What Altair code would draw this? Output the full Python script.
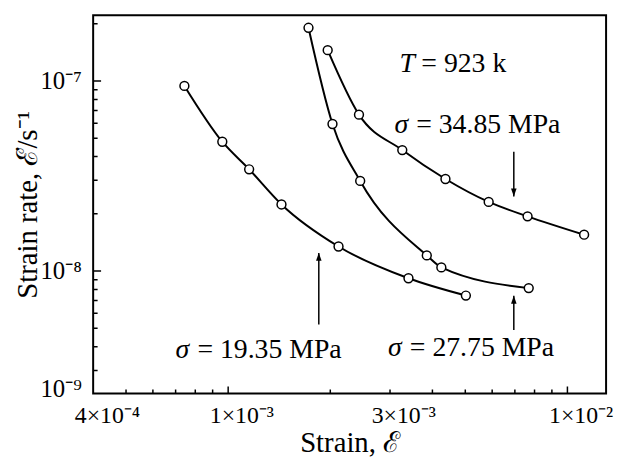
import altair as alt
import pandas as pd

# ---------------- data ----------------
series_names = ["19.35", "27.75", "34.85"]

s1_strain = [7.43e-4, 9.61e-4, 1.153e-3, 1.436e-3, 2.115e-3, 3.40e-3, 5.02e-3]
s1_rate = [9.42e-8, 4.79e-8, 3.43e-8, 2.24e-8, 1.346e-8, 9.16e-9, 7.43e-9]

s2_strain = [1.725e-3, 2.03e-3, 2.45e-3, 3.85e-3, 4.25e-3, 7.69e-3]
s2_rate = [1.905e-7, 5.94e-8, 2.98e-8, 1.208e-8, 1.045e-8, 8.13e-9]

s3_strain = [1.965e-3, 2.43e-3, 3.26e-3, 4.37e-3, 5.86e-3, 7.63e-3, 1.12e-2]
s3_rate = [1.453e-7, 6.65e-8, 4.33e-8, 3.05e-8, 2.31e-8, 1.94e-8, 1.553e-8]

# axis ticks / labels
x_label_values = [4e-4, 1e-3, 3e-3, 1e-2]
x_label_texts = ["4×10⁻⁴", "1×10⁻³", "3×10⁻³", "1×10⁻²"]
x_major_ticks = [1e-3, 1e-2]
x_minor_ticks = [5e-4, 6e-4, 7e-4, 8e-4, 9e-4, 2e-3, 3e-3, 4e-3, 5e-3,
                 6e-3, 7e-3, 8e-3, 9e-3]

y_label_values = [2.4e-9, 1e-8, 1e-7]
y_label_texts = ["10⁻⁹", "10⁻⁸", "10⁻⁷"]
y_major_ticks = [1e-8, 1e-7]
y_minor_ticks = [2e-7, 9e-8, 8e-8, 7e-8, 6e-8, 5e-8, 4e-8, 3e-8, 2e-8,
                 9e-9, 8e-9, 7e-9, 6e-9, 5e-9, 4e-9, 3e-9]

x_domain = [4e-4, 1.3e-2]
y_domain = [2.27e-9, 2.22e-7]

# annotations
ann_symbol = ["T", "σ", "σ", "σ"]
ann_rest = ["= 923 k", "= 34.85 MPa", "= 19.35 MPa", "= 27.75 MPa"]
ann_x = [3.2e-3, 3.09e-3, 7.0e-4, 2.96e-3]
ann_y = [1.109e-7, 5.31e-8, 3.5e-9, 3.57e-9]

arrow_x = [1.85e-3, 6.95e-3, 6.95e-3]
arrow_tail = [5.23e-9, 4.89e-9, 4.24e-8]
arrow_tip = [1.246e-8, 7.41e-9, 2.47e-8]
arrow_dir = ["up", "up", "down"]

# ---------------- build tables ----------------
rows = []
for name, xs_, ys_ in zip(series_names, [s1_strain, s2_strain, s3_strain],
                          [s1_rate, s2_rate, s3_rate]):
    for xv, yv in zip(xs_, ys_):
        rows.append({"series": name, "strain": xv, "rate": yv})
df = pd.DataFrame(rows)

ann_df = pd.DataFrame({"sym": ann_symbol, "rest": ann_rest, "x": ann_x, "y": ann_y})
arr_df = pd.DataFrame({"x": arrow_x, "tail": arrow_tail, "tip": arrow_tip, "dir": arrow_dir})

W, H = 518, 382
FONT = "Liberation Serif"


def label_expr(values, labels):
    expr = "''"
    for v, l in reversed(list(zip(values, labels))):
        expr = f"abs(datum.value - {v}) < {v * 1e-3} ? '{l}' : ({expr})"
    return expr


xs = alt.Scale(type="log", domain=x_domain, nice=False)
ys = alt.Scale(type="log", domain=y_domain, nice=False)

# label axes (bottom / left)
x_lab_axis = alt.Axis(orient="bottom", values=x_label_values,
                      labelExpr=label_expr(x_label_values, x_label_texts),
                      ticks=False, domain=False, grid=False,
                      labelFontSize=24, labelPadding=10, labelAlign="left",
                      labelOffset=-19, labelFlush=False, labelOverlap=False,
                      labelBound=False,
                      title="Strain, ℰ", titleFontSize=29, titlePadding=2)
y_lab_axis = alt.Axis(orient="left", values=y_label_values,
                      labelExpr=label_expr(y_label_values, y_label_texts),
                      ticks=False, domain=False, grid=False,
                      labelFontSize=25, labelPadding=12, labelFlush=False,
                      labelOverlap=False, labelBound=False,
                      title="Strain rate, ℰ̇/s⁻¹", titleFontSize=29, titlePadding=-3)

base = alt.Chart(df)

lines = base.mark_line(interpolate="monotone", color="black", strokeWidth=2).encode(
    x=alt.X("strain:Q", scale=xs, axis=x_lab_axis),
    y=alt.Y("rate:Q", scale=ys, axis=y_lab_axis),
    detail="series:N",
)

points = base.mark_circle(fill="white", stroke="black", strokeWidth=1.5,
                          size=80, opacity=1).encode(
    x=alt.X("strain:Q", scale=xs, axis=None),
    y=alt.Y("rate:Q", scale=ys, axis=None),
)

# inward ticks: centred on the frame edge and clipped to the plot area
xmaj_df = pd.DataFrame({"v": x_major_ticks})
xmin_df = pd.DataFrame({"v": x_minor_ticks})
ymaj_df = pd.DataFrame({"v": y_major_ticks})
ymin_df = pd.DataFrame({"v": y_minor_ticks})

x_major = alt.Chart(xmaj_df).mark_tick(clip=True, color="black", thickness=1.5,
                                       size=14, opacity=1).encode(
    x=alt.X("v:Q", scale=xs, axis=None), y=alt.value(H))
x_minor = alt.Chart(xmin_df).mark_tick(clip=True, color="black", thickness=1.5,
                                       size=8, opacity=1).encode(
    x=alt.X("v:Q", scale=xs, axis=None), y=alt.value(H))
y_major = alt.Chart(ymaj_df).mark_tick(clip=True, color="black", thickness=1.5,
                                       size=16, opacity=1).encode(
    y=alt.Y("v:Q", scale=ys, axis=None), x=alt.value(0))
y_minor = alt.Chart(ymin_df).mark_tick(clip=True, color="black", thickness=1.5,
                                       size=9, opacity=1).encode(
    y=alt.Y("v:Q", scale=ys, axis=None), x=alt.value(0))

arr_base = alt.Chart(arr_df)
arrow_lines = arr_base.mark_rule(color="black", strokeWidth=1.5).encode(
    x=alt.X("x:Q", scale=xs, axis=None),
    y=alt.Y("tail:Q", scale=ys, axis=None),
    y2="tip:Q",
)
head_up = arr_base.transform_filter(alt.datum.dir == "up").mark_point(
    shape="M0,0L-0.35,1L0.35,1Z", filled=True, color="black", size=256, opacity=1
).encode(
    x=alt.X("x:Q", scale=xs, axis=None),
    y=alt.Y("tip:Q", scale=ys, axis=None),
)
head_down = arr_base.transform_filter(alt.datum.dir == "down").mark_point(
    shape="M0,0L-0.35,-1L0.35,-1Z", filled=True, color="black", size=256, opacity=1
).encode(
    x=alt.X("x:Q", scale=xs, axis=None),
    y=alt.Y("tip:Q", scale=ys, axis=None),
)

ann_base = alt.Chart(ann_df)
ann_sym = ann_base.mark_text(font=FONT, fontSize=28, fontStyle="italic",
                             align="left", baseline="alphabetic", color="black").encode(
    x=alt.X("x:Q", scale=xs, axis=None),
    y=alt.Y("y:Q", scale=ys, axis=None),
    text="sym:N",
)
ann_txt = ann_base.mark_text(font=FONT, fontSize=28, align="left", dx=22,
                             baseline="alphabetic", color="black").encode(
    x=alt.X("x:Q", scale=xs, axis=None),
    y=alt.Y("y:Q", scale=ys, axis=None),
    text="rest:N",
)

chart = alt.layer(
    lines, points, x_major, x_minor, y_major, y_minor,
    arrow_lines, head_up, head_down, ann_sym, ann_txt
).resolve_axis(
    x="independent", y="independent"
).properties(
    width=W, height=H,
    autosize=alt.AutoSizeParams(type="none"),
    padding={"left": 86, "top": 5, "right": 8, "bottom": 64},
    background="white",
).configure_view(
    stroke="black", strokeWidth=2
).configure_axis(
    labelFont=FONT, titleFont=FONT, labelColor="black", titleColor="black",
    titleFontWeight="normal",
)

chart.save("out.html", embed_options={"renderer": "svg", "actions": False})
